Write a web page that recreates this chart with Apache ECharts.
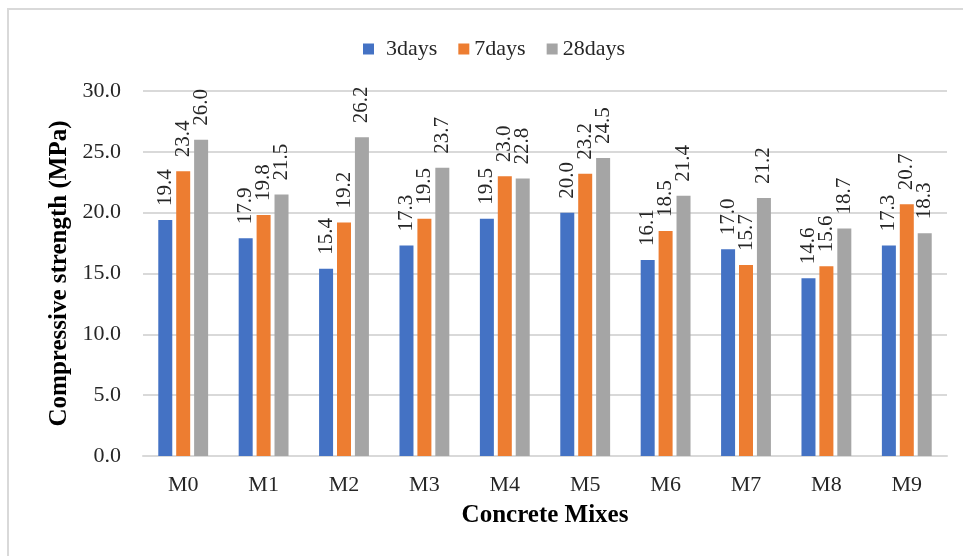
<!DOCTYPE html>
<html>
<head>
<meta charset="utf-8">
<script src="https://cdn.jsdelivr.net/npm/echarts@6/dist/echarts.min.js"></script>
<style>html,body{margin:0;padding:0;background:#fff;}#c{width:963px;height:556px;}</style>
</head>
<body>
<div id="c"></div>
<script>
const categories = ['M0','M1','M2','M3','M4','M5','M6','M7','M8','M9'];
const days3  = [19.4, 17.9, 15.4, 17.3, 19.5, 20.0, 16.1, 17.0, 14.6, 17.3];
const days7  = [23.4, 19.8, 19.2, 19.5, 23.0, 23.2, 18.5, 15.7, 15.6, 20.7];
const days28 = [26.0, 21.5, 26.2, 23.7, 22.8, 24.5, 21.4, 21.2, 18.7, 18.3];
const seriesNames = ['3days','7days','28days'];
const yTicks = ['0.0','5.0','10.0','15.0','20.0','25.0','30.0'];

const FONT = '"Liberation Serif", "Times New Roman", serif';
const colors = ['#4472C4','#ED7D31','#A5A5A5'];
const dataSets = [days3, days7, days28];

const chart = echarts.init(document.getElementById('c'), null, {renderer:'canvas'});
chart.setOption({
  animation: false,
  backgroundColor: '#fff',
  textStyle: {fontFamily: FONT, color: '#262626'},
  graphic: [{
    type: 'rect', silent: true,
    shape: {x: 8, y: 9, width: 1000, height: 1000},
    style: {fill: 'none', stroke: '#d9d9d9', lineWidth: 2}
  }],
  legend: {
    left: 358, top: 33,
    itemWidth: 11, itemHeight: 11, itemGap: 21,
    icon: 'rect',
    textStyle: {fontFamily: FONT, fontSize: 22, color: '#262626'},
    data: [
      {name: seriesNames[0], textStyle: {padding: [0,0,0,7]}},
      {name: seriesNames[1]},
      {name: seriesNames[2]}
    ]
  },
  grid: {left: 143, right: 16, top: 91, bottom: 100},
  xAxis: {
    type: 'category',
    data: categories,
    name: 'Concrete Mixes',
    nameLocation: 'middle',
    nameGap: 47,
    nameTextStyle: {fontFamily: FONT, fontSize: 25, fontWeight: 'bold', color: '#000', verticalAlign: 'top'},
    axisLine: {lineStyle: {color: '#d9d9d9', width: 2}},
    axisTick: {show: false},
    axisLabel: {fontFamily: FONT, fontSize: 22, color: '#262626', margin: 18}
  },
  yAxis: {
    type: 'value',
    min: 0, max: 30, interval: 5,
    name: 'Compressive strength (MPa)',
    nameLocation: 'middle',
    nameGap: 70,
    nameRotate: 90,
    nameTextStyle: {fontFamily: FONT, fontSize: 25, fontWeight: 'bold', color: '#000'},
    axisLine: {show: false},
    axisTick: {show: false},
    splitLine: {lineStyle: {color: '#d9d9d9', width: 2}},
    axisLabel: {
      fontFamily: FONT, fontSize: 22, color: '#262626', margin: 22,
      formatter: function (v) { return yTicks[Math.round(v / 5)]; }
    }
  },
  series: seriesNames.map(function (n, i) {
    return {
      name: n,
      type: 'bar',
      data: dataSets[i],
      barWidth: 14,
      barGap: '28%',
      itemStyle: {color: colors[i]},
      label: {
        show: true,
        position: 'top',
        distance: 14,
        rotate: 90,
        align: 'left',
        verticalAlign: 'middle',
        fontFamily: FONT,
        fontSize: 21,
        color: '#262626',
        formatter: function (p) { return p.value.toFixed(1); }
      }
    };
  })
});
</script>
</body>
</html>
